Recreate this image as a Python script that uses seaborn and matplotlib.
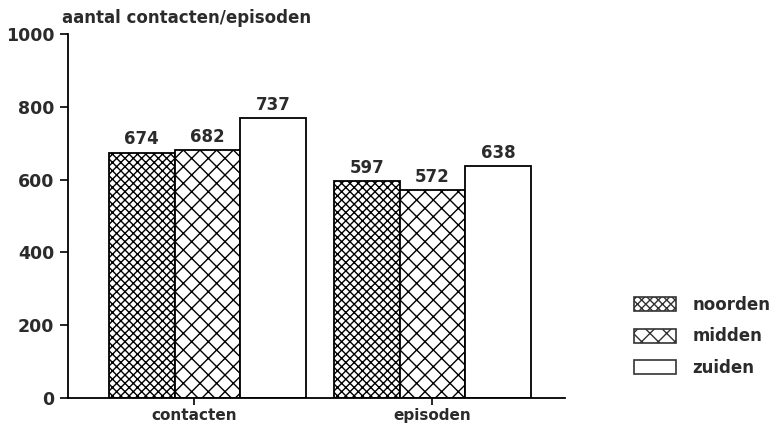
import numpy as np
import pandas as pd
import matplotlib
matplotlib.use("Agg")
from matplotlib import pyplot as plt
from matplotlib.patches import Patch
import seaborn as sns

# data
categories = ["contacten", "episoden"]
regions = ["noorden", "midden", "zuiden"]
noorden = [674, 597]
midden = [682, 572]
zuiden = [770, 638]          # bar as drawn in the original (label says 737)
label_noorden = ["674", "597"]
label_midden = ["682", "572"]
label_zuiden = ["737", "638"]
yticks = [0, 200, 400, 600, 800, 1000]

df = pd.DataFrame({
    "type": categories * 3,
    "regio": np.repeat(regions, 2),
    "aantal": noorden + midden + zuiden,
})

sns.set_style("white")
plt.rcParams["font.family"] = ["DejaVu Sans"]
plt.rcParams["hatch.linewidth"] = 1.0
txt = "#2b2b2b"

fig = plt.figure(figsize=(7.78, 4.25), dpi=100)
ax = fig.add_axes([68 / 778, 27 / 425, (565 - 68) / 778, (398 - 34) / 425])

sns.barplot(data=df, x="type", y="aantal", hue="regio", order=categories,
            hue_order=regions, palette=["white"] * 3, width=0.875,
            edgecolor="black", linewidth=1.3, saturation=1, ax=ax)

hatches = ["xxxx", "xx", ""]
labels = [label_noorden, label_midden, label_zuiden]
for cont, h, lbl in zip(ax.containers, hatches, labels):
    for bar in cont:
        bar.set_hatch(h)
        bar.set_facecolor("white")
        bar.set_edgecolor("black")
    ax.bar_label(cont, labels=lbl, padding=3, fontsize=12,
                 fontweight="bold", color=txt)

ax.legend_.remove()
handles = [Patch(facecolor="white", edgecolor="#333333", hatch=h, linewidth=1.2)
           for h in hatches]
fig.legend(handles, regions, loc="upper left",
           bbox_to_anchor=(634 / 778, 1 - 296 / 425), frameon=False,
           handlelength=2.5, handleheight=0.9, labelspacing=0.8,
           handletextpad=1.0, borderpad=0, borderaxespad=0,
           prop={"size": 12, "weight": "bold"}, labelcolor=txt)

ax.set_ylim(0, 1000)
ax.set_xlim(-0.62, 1.59)
ax.set_yticks(yticks)
ax.set_yticklabels([str(t) for t in yticks], fontsize=12.5,
                   fontweight="bold", color=txt)
ax.set_xticks([-0.06, 1.0])
ax.set_xticklabels(categories, fontsize=11, fontweight="bold", color=txt)
ax.tick_params(axis="y", direction="out", length=6, width=1.2, color="black",
               left=True, pad=4)
ax.tick_params(axis="x", direction="out", length=5, width=1.2, color="black",
               bottom=True, pad=2)
ax.set_xlabel("")
ax.set_ylabel("")
for s in ["top", "right"]:
    ax.spines[s].set_visible(False)
for s in ["left", "bottom"]:
    ax.spines[s].set_color("black")
    ax.spines[s].set_linewidth(1.3)

fig.text(62 / 778, 1 - 18 / 425, "aantal contacten/episoden", fontsize=12,
         fontweight="bold", color=txt, va="center", ha="left")

fig.savefig("out.png", dpi=100)
